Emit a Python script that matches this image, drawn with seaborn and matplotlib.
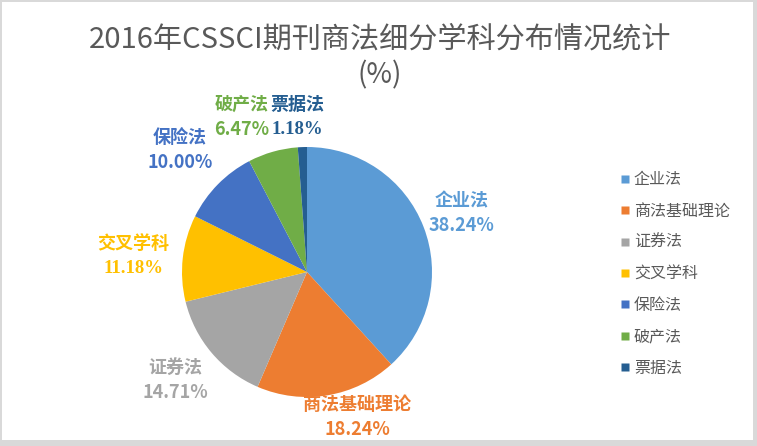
import matplotlib
matplotlib.use("Agg")
import matplotlib.pyplot as plt
from matplotlib.patches import Rectangle
from matplotlib.lines import Line2D
import seaborn as sns

# ---- data ----
categories = ["企业法", "商法基础理论", "证券法", "交叉学科", "保险法", "破产法", "票据法"]
values = [38.24, 18.24, 14.71, 11.18, 10.00, 6.47, 1.18]
value_labels = ["38.24%", "18.24%", "14.71%", "11.18%", "10.00%", "6.47%", "1.18%"]
title_line1 = "2016年CSSCI期刊商法细分学科分布情况统计"
title_line2 = "(%)"

# ---- style ----
colors = ["#5B9BD5", "#ED7D31", "#A5A5A5", "#FFC000", "#4472C4", "#70AD47", "#255E91"]
text_colors = ["#5B9BD5", "#ED7D31", "#A5A5A5", "#FFC000", "#4472C4", "#70AD47", "#255E91"]
value_serif = [False, False, False, True, False, False, True]
# label block centres (in pie-radius units, relative to pie centre)
label_pos = [(1.24, 0.47), (0.40, -1.16), (-1.056, -0.864), (-1.39, 0.128),
             (-1.016, 0.976), (-0.52, 1.24), (-0.08, 1.24)]

sns.set_theme(style="white")
plt.rcParams["font.family"] = ["Noto Sans CJK SC", "DejaVu Sans"]

W, H = 757, 446
fig = plt.figure(figsize=(W / 100, H / 100), dpi=100)
fig.patch.set_facecolor("#D9D9D9")
fig.patches.append(Rectangle((2 / W, 6 / H), (W - 6) / W, (H - 8) / H,
                             transform=fig.transFigure, facecolor="white",
                             edgecolor="none", zorder=-5))

ax = fig.add_axes([0, 0, 1, 1])
ax.set_zorder(2)
ax.set_facecolor("none")
R = 125.0
cx, cy = 307.0, 272.0

wedges, _ = ax.pie(values, colors=colors, startangle=90, counterclock=False,
                   radius=1.0, wedgeprops=dict(linewidth=0))
ax.set_aspect("auto")
ax.set_xlim(-cx / R, (W - cx) / R)
ax.set_ylim(-(H - cy) / R, cy / R)
ax.axis("off")

px = 1.0 / R  # one pixel in data units
for i, (x, y) in enumerate(label_pos):
    ax.text(x, y + 12.5 * px, categories[i], ha="center", va="center",
            fontsize=13, color=text_colors[i], fontweight="bold")
    if value_serif[i]:
        ax.text(x, y - 12.5 * px, value_labels[i], ha="center", va="center",
                fontsize=13.5, color=text_colors[i], fontweight="bold",
                family=["Liberation Serif"])
    else:
        ax.text(x, y - 12.5 * px, value_labels[i], ha="center", va="center",
                fontsize=13, color=text_colors[i], fontweight="bold")

# title
fig.text(380 / W, 1 - 40 / H, title_line1, ha="center", va="center",
         fontsize=21, color="#595959", fontweight="medium")
fig.text(380 / W, 1 - 75 / H, title_line2, ha="center", va="center",
         fontsize=20, color="#595959", fontweight="medium")

# legend
handles = [Line2D([0], [0], marker="s", linestyle="none", markersize=6,
                  markerfacecolor=c, markeredgecolor="none") for c in colors]
leg = fig.legend(handles, categories, loc="upper left",
                 bbox_to_anchor=(614 / W, 1 - 165 / H), frameon=False,
                 fontsize=11.5, labelcolor="#595959", handlelength=0.6,
                 handletextpad=0.25, labelspacing=0.9, borderaxespad=0)

fig.savefig("out.png", dpi=100, facecolor=fig.get_facecolor())
